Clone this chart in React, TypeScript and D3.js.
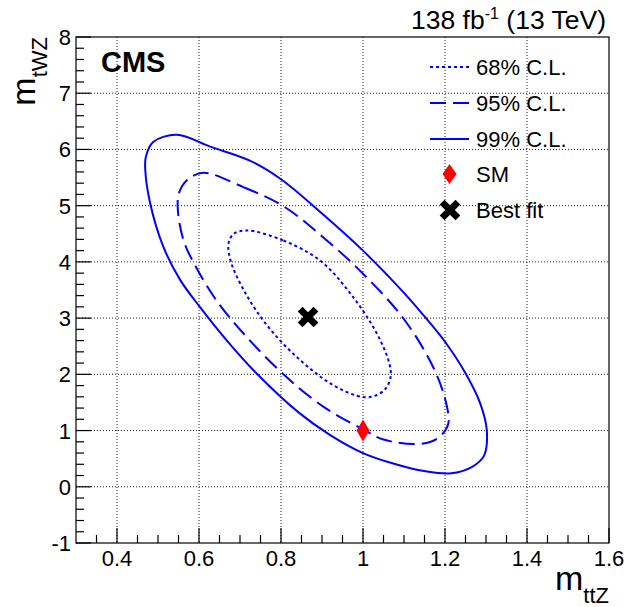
import React from 'react';
import * as d3 from 'd3';

// ---- data ----
const xDomain = [0.3, 1.6];
const yDomain = [-1, 8];
const xTickValues = [0.4, 0.6, 0.8, 1.0, 1.2, 1.4, 1.6];
const xTickLabels = ['0.4', '0.6', '0.8', '1', '1.2', '1.4', '1.6'];
const yTickValues = [-1, 0, 1, 2, 3, 4, 5, 6, 7, 8];
const yTickLabels = ['-1', '0', '1', '2', '3', '4', '5', '6', '7', '8'];

// 68% C.L. contour (m_ttZ, m_tWZ)
const cl68X = [0.716, 0.806, 0.896, 0.969, 1.032, 1.064, 1.067, 1.052, 1.02, 0.985, 0.92, 0.838, 0.765, 0.712, 0.678, 0.672, 0.685];
const cl68Y = [4.56, 4.38, 4.02, 3.44, 2.75, 2.20, 1.94, 1.72, 1.60, 1.62, 1.84, 2.31, 2.88, 3.46, 4.00, 4.33, 4.50];

// 95% C.L. contour
const cl95X = [0.61, 0.708, 0.806, 0.904, 1.0, 1.1, 1.173, 1.204, 1.208, 1.19, 1.165, 1.124, 1.05, 1.0, 0.904, 0.806, 0.708, 0.643, 0.594, 0.562, 0.548, 0.552, 0.572];
const cl95Y = [5.585, 5.33, 4.99, 4.43, 3.79, 2.98, 2.10, 1.45, 1.12, 0.91, 0.80, 0.76, 0.84, 1.02, 1.42, 2.00, 2.73, 3.31, 3.89, 4.39, 4.98, 5.24, 5.46];

// 99% C.L. contour
const cl99X = [0.546, 0.627, 0.724, 0.80, 0.90, 1.0, 1.1, 1.15, 1.2, 1.25, 1.285, 1.302, 1.295, 1.265, 1.215, 1.149, 1.08, 1.0, 0.92, 0.845, 0.74, 0.667, 0.602, 0.554, 0.513, 0.481, 0.469, 0.4704, 0.489];
const cl99Y = [6.26, 6.05, 5.80, 5.47, 4.86, 4.20, 3.45, 3.03, 2.58, 2.02, 1.5, 1.0, 0.55, 0.35, 0.24, 0.28, 0.40, 0.60, 0.92, 1.31, 2.02, 2.61, 3.20, 3.68, 4.27, 5.04, 5.63, 5.87, 6.136];

const smPoint = [1.0, 1.0];
const bestFit = [0.866, 3.02];

const legendLabels = ['68% C.L.', '95% C.L.', '99% C.L.', 'SM', 'Best fit'];

// ---- layout ----
const W = 624;
const H = 607;
const L = 76, R = 609, T = 37, B = 543;
const FONT = "'Liberation Sans', Arial, Helvetica, sans-serif";
const BLUE = '#0000ff';

const x = d3.scaleLinear().domain(xDomain).range([L, R]);
const y = d3.scaleLinear().domain(yDomain).range([B, T]);

const contourPath = (xs: number[], ys: number[]) =>
  d3
    .line<number>()
    .x((_, i) => x(xs[i]))
    .y((_, i) => y(ys[i]))
    .curve(d3.curveCatmullRomClosed.alpha(0.5))(xs.map((v) => v)) as string;

const crossPath = (cx: number, cy: number) => {
  const a = 3.4, b = 11.2;
  const pts = [
    [-a, -b], [a, -b], [a, -a], [b, -a], [b, a], [a, a],
    [a, b], [-a, b], [-a, a], [-b, a], [-b, -a], [-a, -a],
  ];
  const c = Math.SQRT1_2;
  return (
    'M' +
    pts
      .map(([px, py]) => `${cx + (px - py) * c},${cy + (px + py) * c}`)
      .join('L') +
    'Z'
  );
};

const diamondPath = (cx: number, cy: number, hw: number, hh: number) =>
  `M${cx},${cy - hh}L${cx + hw},${cy}L${cx},${cy + hh}L${cx - hw},${cy}Z`;

export default function App() {
  const xMinor = d3.range(0.35, 1.6, 0.05).filter((v) => Math.abs(v * 5 - Math.round(v * 5)) > 1e-6);
  const yMinor = d3.range(-0.8, 8, 0.2).filter((v) => Math.abs(v - Math.round(v)) > 1e-6);
  const gridX = xTickValues.filter((v) => v < 1.59);
  const gridY = yTickValues.filter((v) => v > -1 && v < 8);

  const legX0 = 430, legX1 = 469, legText = 476;
  const legY = [67, 103, 139, 174, 210];

  return (
    <div style={{ position: 'absolute', left: 0, top: 0 }}>
      <svg width={W} height={H} style={{ display: 'block', background: '#fff' }} fontFamily={FONT}>
        <rect x={0} y={0} width={W} height={H} fill="#fff" />
        {/* grid */}
        {gridX.map((v) => (
          <line key={'gx' + v} x1={x(v)} x2={x(v)} y1={T} y2={B} stroke="#222" strokeWidth={1} strokeDasharray="1,2" />
        ))}
        {gridY.map((v) => (
          <line key={'gy' + v} x1={L} x2={R} y1={y(v)} y2={y(v)} stroke="#222" strokeWidth={1} strokeDasharray="1,2" />
        ))}

        {/* contours */}
        <path d={contourPath(cl99X, cl99Y)} fill="none" stroke={BLUE} strokeWidth={2} />
        <path d={contourPath(cl95X, cl95Y)} fill="none" stroke={BLUE} strokeWidth={2} strokeDasharray="16,7" />
        <path d={contourPath(cl68X, cl68Y)} fill="none" stroke={BLUE} strokeWidth={2} strokeDasharray="3,3" />

        {/* markers */}
        <path d={diamondPath(x(smPoint[0]), y(smPoint[1]), 6.5, 11)} fill="#ff0000" />
        <path d={crossPath(x(bestFit[0]), y(bestFit[1]))} fill="#000" />

        {/* frame */}
        <rect x={L} y={T} width={R - L} height={B - T} fill="none" stroke="#000" strokeWidth={1.2} />

        {/* x ticks */}
        {xTickValues.map((v) => (
          <line key={'xt' + v} x1={x(v)} x2={x(v)} y1={B} y2={B - 15} stroke="#000" strokeWidth={1.2} />
        ))}
        {xMinor.map((v) => (
          <line key={'xm' + v} x1={x(v)} x2={x(v)} y1={B} y2={B - 8} stroke="#000" strokeWidth={1.2} />
        ))}
        {xTickValues.map((v, i) => (
          <text key={'xl' + v} x={x(v)} y={566} textAnchor="middle" fontSize={22} fill="#000">
            {xTickLabels[i]}
          </text>
        ))}

        {/* y ticks */}
        {yTickValues.map((v) => (
          <line key={'yt' + v} x1={L} x2={L + 15} y1={y(v)} y2={y(v)} stroke="#000" strokeWidth={1.2} />
        ))}
        {yMinor.map((v) => (
          <line key={'ym' + v.toFixed(2)} x1={L} x2={L + 8} y1={y(v)} y2={y(v)} stroke="#000" strokeWidth={1.2} />
        ))}
        {yTickValues.map((v, i) => (
          <text key={'yl' + v} x={71} y={y(v) + 8} textAnchor="end" fontSize={22} fill="#000">
            {yTickLabels[i]}
          </text>
        ))}

        {/* axis titles */}
        <text x={R} y={590} textAnchor="end" fill="#000">
          <tspan fontSize={34}>m</tspan>
          <tspan fontSize={22} dy={13}>ttZ</tspan>
        </text>
        <text transform={`translate(35,${T}) rotate(-90)`} textAnchor="end" fill="#000">
          <tspan fontSize={34}>m</tspan>
          <tspan fontSize={22} dy={12}>tWZ</tspan>
        </text>

        {/* header */}
        <text x={606} y={29} textAnchor="end" fontSize={26.5} fill="#000">
          138 fb<tspan fontSize={16} dy={-10}>-1</tspan>
          <tspan dy={10}> (13 TeV)</tspan>
        </text>
        <text x={101} y={72} fontSize={29} fontWeight="bold" fill="#000">
          CMS
        </text>

        {/* legend */}
        <line x1={legX0} x2={legX1} y1={legY[0]} y2={legY[0]} stroke={BLUE} strokeWidth={2} strokeDasharray="3,3" />
        <line x1={legX0} x2={legX1} y1={legY[1]} y2={legY[1]} stroke={BLUE} strokeWidth={2} strokeDasharray="16,7" />
        <line x1={legX0} x2={legX1} y1={legY[2]} y2={legY[2]} stroke={BLUE} strokeWidth={2} />
        <path d={diamondPath(449.5, legY[3], 7, 10)} fill="#ff0000" />
        <path d={crossPath(450, legY[4])} fill="#000" />
        {legendLabels.map((t, i) => (
          <text key={t} x={legText} y={legY[i] + 8} fontSize={22} fill="#000">
            {t}
          </text>
        ))}
      </svg>
    </div>
  );
}
